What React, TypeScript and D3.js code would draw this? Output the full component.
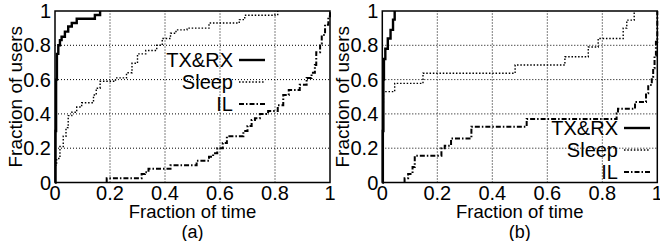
import { useEffect, useRef } from 'react';
import * as d3 from 'd3';

type Pt = [number, number];

// panel (a) step CDFs: [fraction of time, fraction of users]
const txrxA: Pt[] = [
  [0, 0], [0.002, 0.3], [0.004, 0.6], [0.007, 0.75], [0.012, 0.8], [0.018, 0.83],
  [0.024, 0.85], [0.036, 0.88], [0.048, 0.91], [0.061, 0.93], [0.079, 0.955],
  [0.145, 0.977], [0.164, 1],
];
const sleepA: Pt[] = [
  [0, 0.1], [0.006, 0.14], [0.018, 0.21], [0.03, 0.27], [0.04, 0.32], [0.048, 0.39],
  [0.061, 0.41], [0.079, 0.44], [0.097, 0.465], [0.14, 0.51], [0.15, 0.55],
  [0.164, 0.59], [0.22, 0.61], [0.26, 0.64], [0.28, 0.695], [0.3, 0.75],
  [0.33, 0.77], [0.37, 0.8], [0.39, 0.84], [0.42, 0.87], [0.44, 0.89],
  [0.48, 0.9], [0.56, 0.93], [0.67, 0.95], [0.69, 0.975], [0.8, 0.98], [0.81, 1],
];
const ilA: Pt[] = [
  [0.188, 0], [0.188, 0.025], [0.315, 0.05], [0.327, 0.06], [0.34, 0.08], [0.42, 0.1],
  [0.515, 0.127], [0.56, 0.15], [0.575, 0.17], [0.59, 0.2], [0.61, 0.23],
  [0.625, 0.27], [0.685, 0.3], [0.7, 0.33], [0.715, 0.365], [0.727, 0.375],
  [0.745, 0.4], [0.775, 0.417], [0.81, 0.45], [0.83, 0.51], [0.85, 0.54],
  [0.89, 0.57], [0.915, 0.61], [0.933, 0.64], [0.945, 0.685], [0.95, 0.76],
  [0.964, 0.81], [0.97, 0.86], [0.982, 0.92], [0.994, 0.97], [1, 1],
];

// panel (b)
const txrxB: Pt[] = [
  [0, 0], [0.002, 0.3], [0.004, 0.6], [0.006, 0.72], [0.011, 0.78], [0.02, 0.84],
  [0.03, 0.89], [0.039, 0.95], [0.045, 1],
];
const sleepB: Pt[] = [
  [0, 0.47], [0.004, 0.53], [0.045, 0.578], [0.148, 0.637], [0.483, 0.685],
  [0.664, 0.733], [0.749, 0.79], [0.785, 0.84], [0.876, 0.9], [0.889, 0.947],
  [0.916, 1],
];
const ilB: Pt[] = [
  [0.081, 0], [0.081, 0.025], [0.094, 0.05], [0.11, 0.09], [0.118, 0.156],
  [0.215, 0.2], [0.227, 0.215], [0.25, 0.257], [0.324, 0.325], [0.525, 0.37],
  [0.852, 0.403], [0.857, 0.43], [0.919, 0.47], [0.959, 0.52], [0.967, 0.568],
  [0.98, 0.617], [0.985, 0.666], [0.99, 0.74], [0.995, 0.82], [1, 1],
];

const ticks = [0, 0.2, 0.4, 0.6, 0.8, 1];
const tickLabels = ['0', '0.2', '0.4', '0.6', '0.8', '1'];
const seriesNames = ['TX&RX', 'Sleep', 'IL'];
const dashes = [null, '1.5,1.8', '5,2,1.5,2'];
const widths = [2.4, 1.4, 2];

const FONT = 'Liberation Sans, Arial, Helvetica, sans-serif';

export default function App() {
  const svgRef = useRef<SVGSVGElement>(null);

  useEffect(() => {
    if (!svgRef.current) return;
    const svg = d3.select(svgRef.current);
    svg.selectAll('*').remove();

    const panels = [
      { left: 55, data: [txrxA, sleepA, ilA], label: '(a)', legend: { right: 233, top: 60 } },
      { left: 382.3, data: [txrxB, sleepB, ilB], label: '(b)', legend: { right: 618, top: 128 } },
    ];
    const top = 11;
    const bottom = 182.5;
    const w = 275;

    panels.forEach(p => {
      const x = d3.scaleLinear().domain([0, 1]).range([p.left, p.left + w]);
      const y = d3.scaleLinear().domain([0, 1]).range([bottom, top]);
      const g = svg.append('g');

      // grid
      ticks.slice(1, 5).forEach(t => {
        g.append('line')
          .attr('x1', x(0)).attr('x2', x(1)).attr('y1', y(t)).attr('y2', y(t))
          .attr('stroke', '#000').attr('stroke-width', 1).attr('stroke-dasharray', '1,2');
        g.append('line')
          .attr('x1', x(t)).attr('x2', x(t)).attr('y1', y(0)).attr('y2', y(1))
          .attr('stroke', '#000').attr('stroke-width', 1).attr('stroke-dasharray', '1,2');
      });

      // curves
      const line = d3.line<Pt>()
        .x(d => x(d[0]))
        .y(d => y(d[1]))
        .curve(d3.curveStepAfter);
      p.data.forEach((s, i) => {
        g.append('path')
          .datum(s)
          .attr('fill', 'none')
          .attr('stroke', '#000')
          .attr('stroke-width', widths[i])
          .attr('stroke-dasharray', dashes[i])
          .attr('d', line);
      });

      // frame
      g.append('rect')
        .attr('x', x(0)).attr('y', y(1))
        .attr('width', x(1) - x(0)).attr('height', y(0) - y(1))
        .attr('fill', 'none').attr('stroke', '#000').attr('stroke-width', 1.5);

      // tick labels
      ticks.forEach((t, i) => {
        g.append('text')
          .attr('x', x(t)).attr('y', 200)
          .attr('text-anchor', 'middle')
          .style('font-family', FONT).style('font-size', '20px')
          .text(tickLabels[i]);
        g.append('text')
          .attr('x', x(0) - 4).attr('y', y(t) + 7)
          .attr('text-anchor', 'end')
          .style('font-family', FONT).style('font-size', '20px')
          .text(tickLabels[i]);
      });

      g.append('text')
        .attr('x', x(0.5)).attr('y', 218)
        .attr('text-anchor', 'middle')
        .style('font-family', FONT).style('font-size', '18.5px')
        .text('Fraction of time');
      g.append('text')
        .attr('x', x(0.5)).attr('y', 238)
        .attr('text-anchor', 'middle')
        .style('font-family', FONT).style('font-size', '18px')
        .text(p.label);
      g.append('text')
        .attr('transform', `translate(${p.left - 33},${(top + bottom) / 2}) rotate(-90)`)
        .attr('text-anchor', 'middle')
        .style('font-family', FONT).style('font-size', '19px')
        .text('Fraction of users');

      // legend
      seriesNames.forEach((name, i) => {
        const ly = p.legend.top + i * 22;
        g.append('text')
          .attr('x', p.legend.right).attr('y', ly + 7)
          .attr('text-anchor', 'end')
          .style('font-family', FONT).style('font-size', '20px')
          .text(name);
        g.append('line')
          .attr('x1', p.legend.right + 6).attr('x2', p.legend.right + 32)
          .attr('y1', ly).attr('y2', ly)
          .attr('stroke', '#000')
          .attr('stroke-width', widths[i])
          .attr('stroke-dasharray', dashes[i]);
      });
    });
  }, []);

  return (
    <div style={{ position: 'absolute', left: 0, top: 0, background: '#fff' }}>
      <svg ref={svgRef} width={660} height={241} style={{ display: 'block' }}></svg>
    </div>
  );
}
